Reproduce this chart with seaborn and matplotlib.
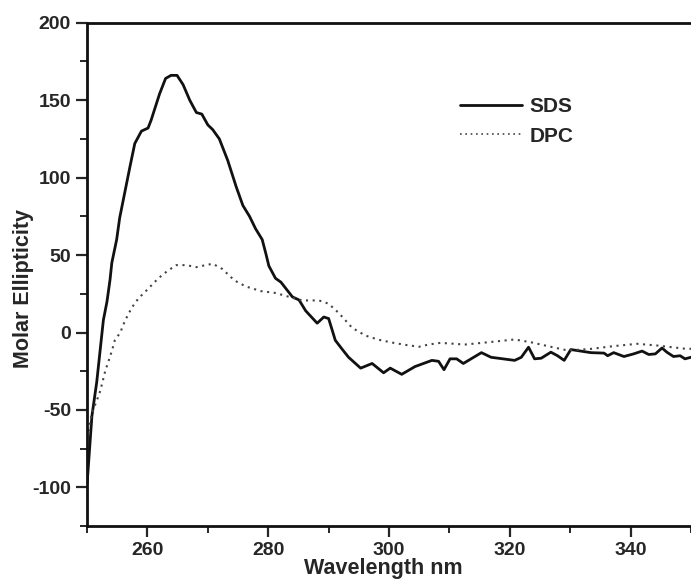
import pandas as pd
import matplotlib
matplotlib.use("Agg")
import matplotlib.pyplot as plt
from matplotlib.ticker import MultipleLocator
import seaborn as sns

# CD spectra (wavelength in nm, molar ellipticity)
sds_wl = [250.0, 250.8, 251.6, 252.7, 253.3, 253.8, 254.1, 254.9, 255.4, 257.1,
          257.9, 259.0, 260.1, 260.6, 262.0, 263.0, 263.9, 264.9, 265.9, 267.0,
          268.1, 269.0, 270.0, 270.8, 271.9, 273.3, 274.7, 275.8, 276.9, 277.9,
          279.0, 279.6, 280.1, 281.2, 282.1, 284.0, 285.1, 286.2, 288.1, 289.2,
          290.0, 291.1, 292.2, 293.3, 295.3, 297.2, 299.1, 300.2, 302.1, 304.3,
          307.1, 308.2, 309.1, 310.1, 311.2, 312.3, 315.3, 316.9, 320.8, 321.9,
          323.1, 324.1, 325.2, 326.8, 327.9, 329.0, 330.1, 333.4, 335.6, 336.2,
          337.2, 338.9, 340.5, 341.9, 343.0, 344.1, 345.2, 346.0, 347.1, 348.2,
          349.0, 350.0]
sds_val = [-98, -54, -32, 8, 20, 34, 45, 60, 74, 107,
           122, 130, 132, 137, 154, 164, 166, 166, 160, 150,
           142, 141, 134, 131, 125, 111, 94, 82, 75, 67,
           60, 51, 43, 35, 32.5, 23, 21, 14, 6, 10,
           9, -5, -10.6, -16, -23, -20, -26, -23, -27, -22,
           -18, -18.6, -24, -17, -17, -20, -13, -16, -18, -16,
           -9.5, -17, -16.6, -12.7, -15, -18, -11, -13, -13.3, -15,
           -13, -15.5, -13.8, -12, -14.2, -13.8, -10, -12.7, -15.5, -15,
           -17, -16]

dpc_wl = [250.0, 250.8, 251.6, 252.2, 253.0, 254.1, 254.6, 255.5, 256.3, 257.4,
          258.5, 259.8, 261.8, 263.4, 264.8, 266.4, 268.1, 269.4, 270.8, 272.4,
          274.4, 276.3, 278.8, 281.2, 284.0, 285.6, 288.4, 290.0, 291.7, 293.9,
          296.1, 298.3, 300.5, 302.7, 305.0, 306.5, 308.5, 310.9, 312.5, 316.4,
          320.8, 323.5, 326.3, 329.6, 333.4, 337.2, 341.1, 344.4, 349.3, 350.0]
dpc_val = [-68, -52, -44, -37.5, -25, -12, -5, 0, 7.8, 16,
           22, 27, 35, 40, 43.5, 43.5, 42.2, 43.3, 44.4, 41,
           33.6, 29.7, 26.7, 25.5, 22.4, 20.7, 20.7, 18.6, 12.5, 3,
           -2, -4.7, -6.5, -8, -9.2, -7.8, -6.7, -7.3, -7.8, -6.3,
           -4.5, -6.3, -8.8, -11.6, -10.6, -8.8, -7.3, -8.4, -10.6, -10.5]

series_names = ['SDS', 'DPC']

df = pd.concat([
    pd.DataFrame({'wl': sds_wl, 'val': sds_val, 'sample': 'SDS'}),
    pd.DataFrame({'wl': dpc_wl, 'val': dpc_val, 'sample': 'DPC'}),
])

sns.set_style('ticks')
plt.rcParams['font.family'] = ['Liberation Sans', 'DejaVu Sans']
plt.rcParams['font.weight'] = 'bold'
plt.rcParams['axes.unicode_minus'] = False  # plain hyphen like the original

fig = plt.figure(figsize=(6.91, 5.82), dpi=100)
ax = fig.add_axes([0.126, 0.096, 0.874, 0.865])

sns.lineplot(
    data=df, x='wl', y='val', hue='sample', style='sample',
    hue_order=series_names, style_order=series_names,
    palette={'SDS': '#111111', 'DPC': '#444444'},
    dashes={'SDS': '', 'DPC': (1, 2.2)},
    estimator=None, sort=True, ax=ax,
)
for line, lw in zip(ax.get_lines()[:2], [2.0, 1.5]):
    line.set_linewidth(lw)

ax.set_xlim(250, 350)
ax.set_ylim(-125, 200)
ax.xaxis.set_major_locator(MultipleLocator(20))
ax.xaxis.set_minor_locator(MultipleLocator(10))
ax.yaxis.set_major_locator(MultipleLocator(50))
ax.yaxis.set_minor_locator(MultipleLocator(25))
ax.tick_params(which='major', direction='out', length=8, width=1.6, labelsize=14)
ax.tick_params(which='minor', direction='out', length=5, width=1.4)

for side in ['left', 'bottom', 'top']:
    ax.spines[side].set_linewidth(2)
    ax.spines[side].set_color('#111111')
ax.spines['right'].set_visible(False)

ax.set_xlabel('Wavelength nm', fontsize=15.5, fontweight='bold')
ax.set_ylabel('Molar Ellipticity', fontsize=15.5, fontweight='bold')
ax.xaxis.set_label_coords(0.49, -0.064)
ax.yaxis.set_label_coords(-0.088, 0.473)

# legend without frame, sitting in the upper right area
handles, labels = ax.get_legend_handles_labels()
for h, lw in zip(handles, [2.0, 1.2]):
    h.set_linewidth(lw)
ax.legend(handles, labels, loc='upper left', bbox_to_anchor=(0.617, 0.852),
          frameon=False, fontsize=15, handlelength=3.0, handletextpad=0.35,
          labelspacing=0.5, borderpad=0, borderaxespad=0)

fig.savefig('out.png', dpi=100)
